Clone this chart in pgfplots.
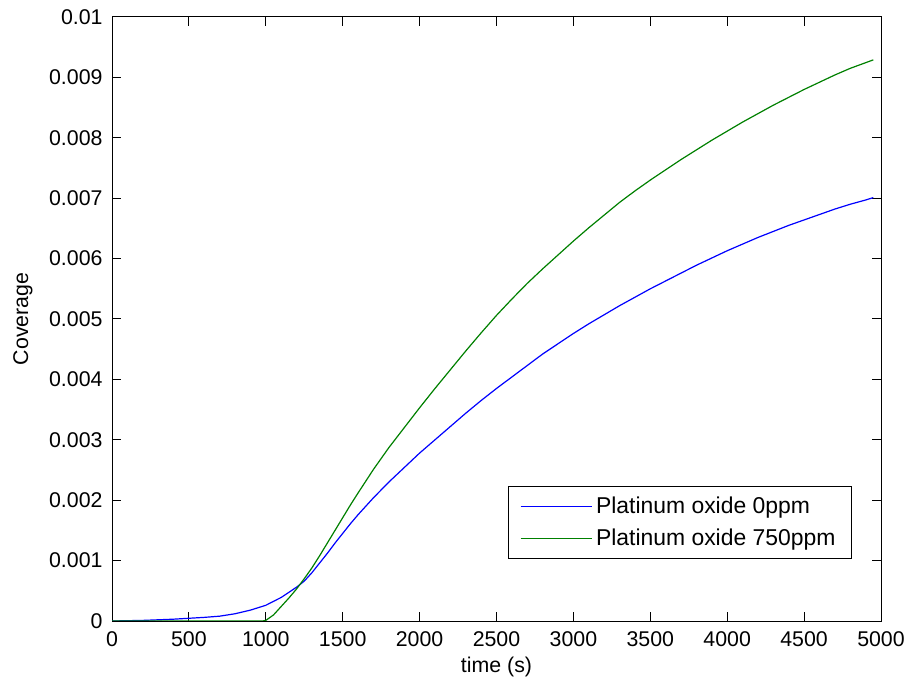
\documentclass[border=0pt]{standalone}
\usepackage{pgfplots}
\pgfplotsset{compat=1.18}
\usepackage{fontspec}
\setmainfont{Liberation Sans}
\definecolor{mblue}{rgb}{0,0,1}
\definecolor{mgreen}{rgb}{0,0.5,0}
\begin{document}
\fontsize{10.7}{12.8}\selectfont
\begin{tikzpicture}
\begin{axis}[
  name=ax,
  scale only axis,
  width=384.5bp, height=302bp,
  xmin=0, xmax=5000, ymin=0, ymax=0.01,
  axis line style={line width=0.5bp},
  every tick/.style={black, line width=0.5bp},
  tick align=inside,
  major tick length=4.5bp,
  xtick={0,500,1000,1500,2000,2500,3000,3500,4000,4500,5000},
  xticklabels={0,500,1000,1500,2000,2500,3000,3500,4000,4500,5000},
  ytick={0,0.001,0.002,0.003,0.004,0.005,0.006,0.007,0.008,0.009,0.01},
  yticklabels={0,0.001,0.002,0.003,0.004,0.005,0.006,0.007,0.008,0.009,0.01},
  scaled y ticks=false,
  ticklabel style={font=\fontsize{10.7}{12.8}\selectfont},
  xticklabel style={yshift=-1.5bp},
  yticklabel style={xshift=-1bp},
  xlabel={time (s)},
  ylabel={Coverage},
  label style={font=\fontsize{10.7}{12.8}\selectfont},
  xlabel style={yshift=2bp},
  ylabel style={yshift=1bp},
  legend style={at={(0.9623,0.1026)}, anchor=south east, draw=black, line width=0.5bp,
    font=\fontsize{11.5}{13.8}\selectfont, inner xsep=6bp, inner ysep=3bp,
    row sep=2bp, cells={anchor=west}},
  legend image code/.code={\draw[#1, line width=0.5bp] (0bp,0bp) -- (35.5bp,0bp);},
]
\addplot[mblue, line width=0.6bp] coordinates {
(0,0) (200,0.00001) (400,0.00003) (600,0.00006) (700,0.00008) (800,0.00012)
(900,0.00018) (1000,0.00026) (1100,0.00039) (1200,0.00056) (1250,0.00066)
(1300,0.0008) (1350,0.00096) (1400,0.00112) (1450,0.00129) (1500,0.00145)
(1550,0.00161) (1600,0.00176) (1700,0.00204) (1800,0.0023) (1900,0.00254)
(2000,0.00278) (2100,0.003) (2200,0.00322) (2300,0.00344) (2400,0.00365)
(2500,0.00385) (2600,0.00404) (2700,0.00423) (2800,0.00442) (2900,0.00459)
(3000,0.00476) (3100,0.00492) (3200,0.00507) (3300,0.00522) (3400,0.00536)
(3500,0.0055) (3600,0.00563) (3700,0.00576) (3800,0.00589) (3900,0.00601)
(4000,0.00613) (4100,0.00624) (4200,0.00635) (4300,0.00645) (4400,0.00655)
(4500,0.00664) (4600,0.00673) (4700,0.00682) (4800,0.0069) (4900,0.00697)
(4950,0.00701)
};
\addlegendentry{Platinum oxide 0ppm}
\addplot[mgreen, line width=0.6bp] coordinates {
(0,0) (500,0) (980,0) (1000,0.00001) (1050,0.0001) (1100,0.00024) (1150,0.00038)
(1200,0.00053) (1250,0.0007) (1300,0.00088) (1350,0.00108) (1400,0.00129)
(1450,0.0015) (1500,0.00171) (1550,0.00192) (1600,0.00212) (1700,0.00251)
(1800,0.00287) (1900,0.0032) (2000,0.00353) (2100,0.00385) (2200,0.00416)
(2300,0.00447) (2400,0.00477) (2500,0.00506) (2600,0.00533) (2700,0.00559)
(2800,0.00583) (2900,0.00606) (3000,0.00629) (3100,0.00651) (3200,0.00672)
(3300,0.00693) (3400,0.00712) (3500,0.0073) (3600,0.00747) (3700,0.00764)
(3800,0.0078) (3900,0.00796) (4000,0.00811) (4100,0.00826) (4200,0.0084)
(4300,0.00854) (4400,0.00867) (4500,0.0088) (4600,0.00892) (4700,0.00904)
(4800,0.00915) (4950,0.00929)
};
\addlegendentry{Platinum oxide 750ppm}
\end{axis}
\pgfresetboundingbox
\path[use as bounding box] ([xshift=-56bp,yshift=-32.5bp]ax.south west) rectangle ([xshift=12.5bp,yshift=8.5bp]ax.north east);
\end{tikzpicture}
\end{document}
